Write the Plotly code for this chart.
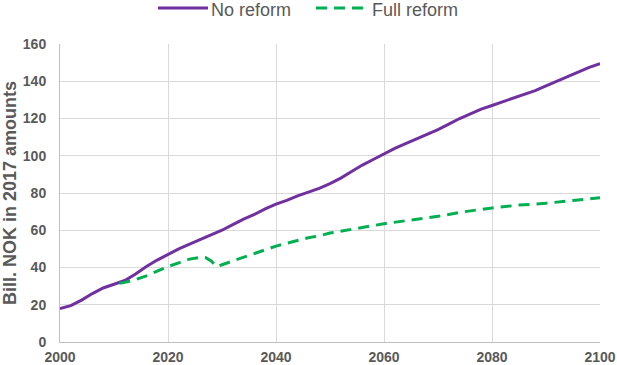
import plotly.graph_objects as go

years_no = list(range(2000, 2101, 2))
no_reform = [18, 19.5, 22.5, 26, 29, 31, 33, 36.5, 40.5, 44, 47, 50, 52.5, 55, 57.5, 60,
             63, 66, 68.5, 71.5, 74, 76, 78.5, 80.5, 82.5, 85, 88, 91.5, 95, 98, 101,
             104, 106.5, 109, 111.5, 114, 117, 120, 122.5, 125, 127, 129, 131, 133, 135,
             137.5, 140, 142.5, 145, 147.5, 149.5]

years_full = [2011, 2012, 2014, 2016, 2018, 2020, 2022, 2024, 2026, 2027, 2028, 2029, 2030,
              2032, 2034, 2036, 2038, 2040, 2042, 2044, 2046, 2048, 2050, 2055, 2060, 2065,
              2070, 2075, 2080, 2085, 2090, 2095, 2100]
full_reform = [31.5, 32, 33.5, 35.5, 38, 40.5, 42.5, 44.5, 45.5, 45.3, 43.5, 40.5, 41.5,
               43.5, 45.5, 47.5, 49.5, 51.5, 53, 54.5, 56, 57, 58.5, 61, 63.5, 65.5,
               67.5, 70, 72, 73.5, 74.5, 76, 77.5]

x_ticks = [2000, 2020, 2040, 2060, 2080, 2100]
y_ticks = [0, 20, 40, 60, 80, 100, 120, 140, 160]
series_names = ["No reform", "Full reform"]
series_colors = ["#7030A0", "#00B050"]
series_dash = ["solid", "11px,7px"]

W, H = 617, 365
ML, MR, MT, MB = 60, 17, 44, 23
PW, PH = W - ML - MR, H - MT - MB

def px2paper_x(px):
    return (px - ML) / PW

def px2paper_y(py):
    return (H - MB - py) / PH

fig = go.Figure()
fig.add_trace(go.Scatter(x=years_no, y=no_reform, mode="lines", name=series_names[0],
                         line=dict(color=series_colors[0], width=3, dash=series_dash[0])))
fig.add_trace(go.Scatter(x=years_full, y=full_reform, mode="lines", name=series_names[1],
                         line=dict(color=series_colors[1], width=3, dash=series_dash[1])))

fam = "Liberation Sans, Arial, sans-serif"
tickfont = dict(family=fam, size=14, color="#595959")

# custom legend (line samples + labels) above the plot area
legend_line_px = [(158, 208), (316, 369)]
for (x0, x1), col, dsh, name in zip(legend_line_px, series_colors, series_dash, series_names):
    fig.add_shape(type="line", xref="paper", yref="paper",
                  x0=px2paper_x(x0), x1=px2paper_x(x1),
                  y0=px2paper_y(8), y1=px2paper_y(8),
                  line=dict(color=col, width=3, dash=dsh))
    fig.add_annotation(xref="paper", yref="paper", x=px2paper_x(x1 + 1), y=px2paper_y(10),
                       text=name, showarrow=False, xanchor="left", yanchor="middle",
                       font=dict(family=fam, size=18, color="#595959"))

fig.update_layout(
    width=W, height=H,
    margin=dict(l=ML, r=MR, t=MT, b=MB),
    paper_bgcolor="white", plot_bgcolor="white",
    font=dict(family=fam, color="#595959"),
    showlegend=False,
)
fig.update_xaxes(range=[2000, 2100], tickvals=x_ticks, ticktext=[f"<b>{v}</b>" for v in x_ticks],
                 showgrid=True, gridcolor="#D9D9D9", gridwidth=1,
                 showline=True, linecolor="#BFBFBF", linewidth=1, automargin=False,
                 ticks="", tickfont=tickfont, zeroline=False, ticklabelstandoff=2)
fig.update_yaxes(range=[0, 160], tickvals=y_ticks, ticktext=[f"<b>{v}</b>" for v in y_ticks],
                 showgrid=True, gridcolor="#D9D9D9", gridwidth=1,
                 showline=True, linecolor="#BFBFBF", linewidth=1, automargin=False,
                 ticks="", tickfont=tickfont, zeroline=False, ticklabelstandoff=10,
                 title=dict(text="<b>Bill. NOK in 2017 amounts</b>",
                            font=dict(size=18, color="#595959", family=fam), standoff=8))
fig.write_html("out.html", config={"displayModeBar": False},
               post_script="document.body.style.margin='0';document.body.style.overflow='hidden';")
